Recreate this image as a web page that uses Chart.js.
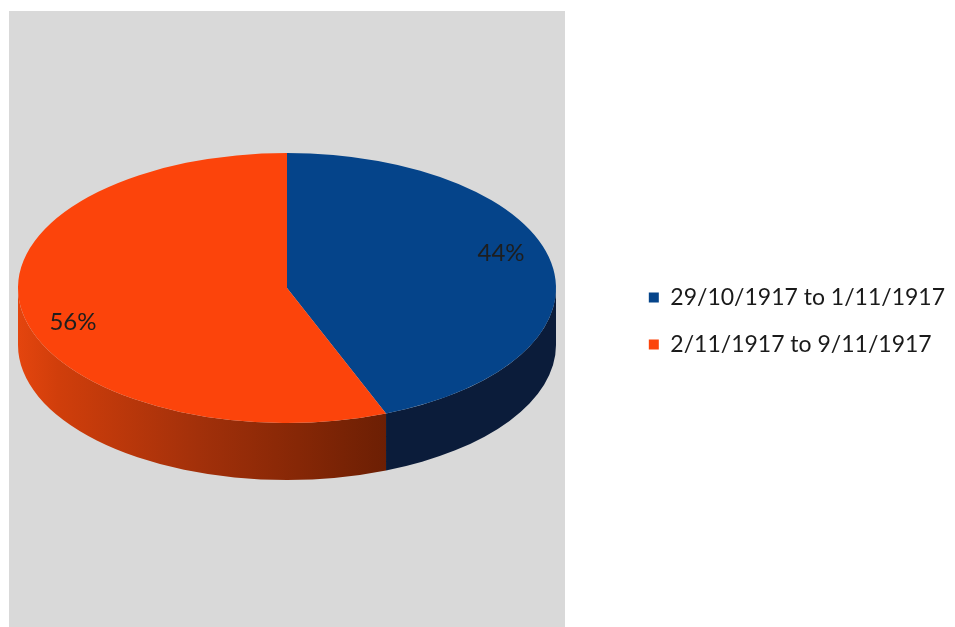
<!DOCTYPE html>
<html>
<head>
<meta charset="utf-8">
<script src="https://cdn.jsdelivr.net/npm/chart.js@4.4.0/dist/chart.umd.min.js"></script>
<style>
  html, body { margin: 0; padding: 0; background: #ffffff; }
  #wrap { width: 955px; height: 627px; }
</style>
</head>
<body>
<div id="wrap"><canvas id="pieChart" width="955" height="627"></canvas></div>
<script>
const periods = ['29/10/1917 to 1/11/1917', '2/11/1917 to 9/11/1917'];
const shares = [44, 56];
const topColors = ['#05448A', '#FC440B'];

// where the flattened pie sits inside the grey panel
const PIE_CX = 287;
const PIE_CY = 288;
const FLAT = 135 / 269;
const DEPTH = 57;

function sideFill(ctx, i, rx) {
  if (i === 0) return '#0B1C3A';
  // orange wall gets darker towards the front
  const g = ctx.createLinearGradient(PIE_CX - rx, 0, 387, 0);
  g.addColorStop(0, '#E4450E');
  g.addColorStop(0.11, '#D03E0B');
  g.addColorStop(0.49, '#A2300A');
  g.addColorStop(0.76, '#862706');
  g.addColorStop(1, '#6C1F04');
  return g;
}

const pie3d = {
  id: 'pie3d',
  beforeDraw(chart) {
    const ctx = chart.ctx;
    ctx.save();
    ctx.fillStyle = '#ffffff';
    ctx.fillRect(0, 0, chart.width, chart.height);
    ctx.fillStyle = '#D9D9D9';
    ctx.fillRect(9, 11, 556, 616);
    ctx.restore();
  },
  beforeDatasetsDraw(chart) {
    const ctx = chart.ctx;
    const arcs = chart.getDatasetMeta(0).data;
    const rx = arcs[0].outerRadius;
    const ry = rx * FLAT;

    // side walls, only the front half is visible
    arcs.forEach((arc, i) => {
      const s = Math.max(arc.startAngle, 0);
      const e = Math.min(arc.endAngle, Math.PI);
      if (e <= s) return;
      ctx.beginPath();
      ctx.ellipse(PIE_CX, PIE_CY, rx, ry, 0, s, e);
      ctx.ellipse(PIE_CX, PIE_CY + DEPTH, rx, ry, 0, e, s, true);
      ctx.closePath();
      ctx.fillStyle = sideFill(ctx, i, rx);
      ctx.fill();
    });

    ctx.save();
    ctx.translate(PIE_CX, PIE_CY);
    ctx.scale(1, FLAT);
    ctx.translate(-arcs[0].x, -arcs[0].y);
  },
  afterDatasetsDraw(chart) {
    const ctx = chart.ctx;
    ctx.restore();

    const arcs = chart.getDatasetMeta(0).data;
    const total = shares.reduce((a, b) => a + b, 0);
    ctx.save();
    ctx.font = '24px Lato';
    ctx.fillStyle = '#1E1E1E';
    ctx.textAlign = 'center';
    ctx.textBaseline = 'middle';
    arcs.forEach((arc, i) => {
      const mid = (arc.startAngle + arc.endAngle) / 2;
      const x = PIE_CX + Math.cos(mid) * arc.outerRadius * 0.81;
      const y = PIE_CY + Math.sin(mid) * arc.outerRadius * 0.68;
      ctx.fillText(Math.round(shares[i] / total * 100) + '%', x, y);
    });
    ctx.restore();
  }
};

new Chart(document.getElementById('pieChart'), {
  type: 'pie',
  data: {
    labels: periods,
    datasets: [{
      data: shares,
      backgroundColor: topColors,
      borderWidth: 0,
      clip: false
    }]
  },
  options: {
    responsive: false,
    animation: false,
    events: [],
    radius: 269,
    layout: { padding: { top: 15, right: 0 } },
    plugins: {
      tooltip: { enabled: false },
      legend: {
        position: 'right',
        labels: {
          boxWidth: 10,
          boxHeight: 10,
          padding: 24,
          color: '#1A1A1A',
          font: { family: 'Lato', size: 23 }
        }
      }
    }
  },
  plugins: [pie3d]
});
</script>
</body>
</html>
